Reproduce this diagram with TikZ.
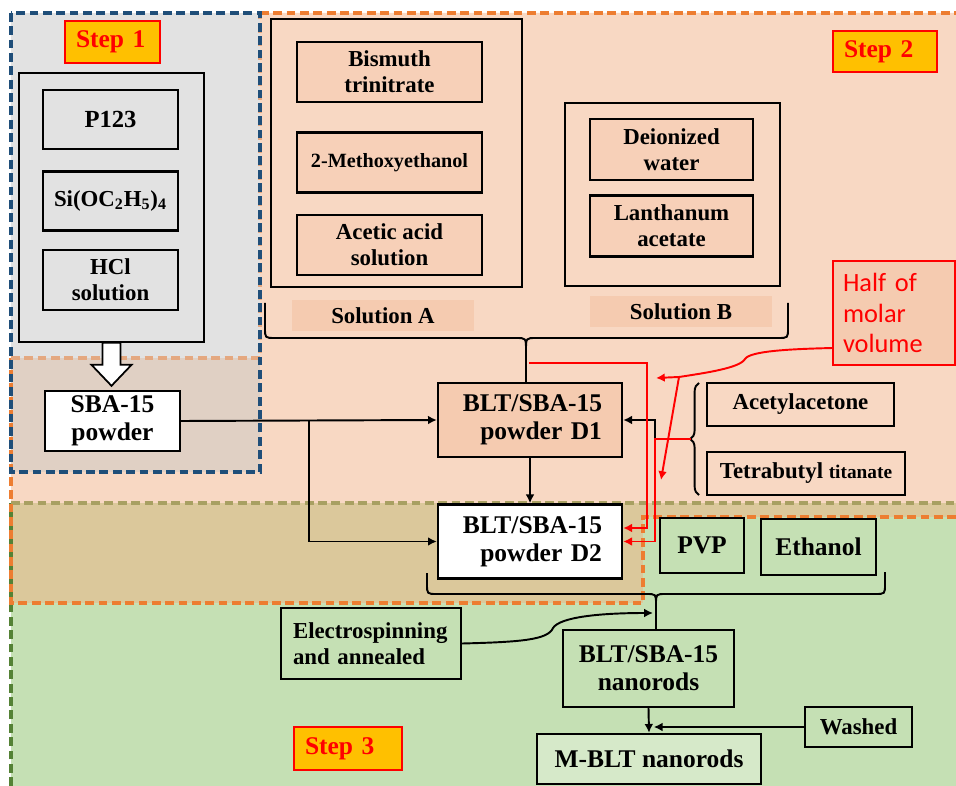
\documentclass[tikz,border=0pt]{standalone}
\usepackage{fontspec}
\setmainfont{Liberation Serif}
\newfontfamily\calibri{Carlito}
\usepackage{tikz}
\usetikzlibrary{arrows.meta,positioning,decorations.pathreplacing}
\usepackage{xcolor}
\definecolor{peach}{RGB}{248,216,195}
\definecolor{peachbox}{RGB}{247,208,184}
\definecolor{peachdark}{RGB}{245,203,176}
\definecolor{greyzone}{RGB}{226,226,226}
\definecolor{greypeach}{RGB}{224,208,196}
\definecolor{greenzone}{RGB}{197,224,180}
\definecolor{greenlight}{RGB}{214,233,201}
\definecolor{tanzone}{RGB}{219,200,155}
\definecolor{gold}{RGB}{255,192,0}
\definecolor{bluedash}{RGB}{31,78,121}
\definecolor{orangedash}{RGB}{237,125,49}
\definecolor{orangefaint}{RGB}{228,168,128}
\definecolor{olivedash}{RGB}{168,160,98}
\definecolor{greendash}{RGB}{84,130,53}

\begin{document}
\begin{tikzpicture}[
        x=0.02cm, y=-0.02cm,
        box/.style={draw, rectangle, line width=1.4pt, align=center, inner sep=0pt, font=\bfseries\fontsize{13}{15}\selectfont},
        big/.style={box, font=\bfseries\fontsize{14.5}{16}\selectfont},
        ingr/.style={box, fill=greyzone, minimum width=2.7cm, minimum height=1.18cm},
        solbox/.style={box, fill=peachbox, minimum width=3.7cm, minimum height=1.2cm},
        outerbox/.style={draw, rectangle, line width=1pt, inner sep=0pt},
        sollabel/.style={fill=peachdark, minimum width=3.64cm, minimum height=0.62cm, font=\bfseries\fontsize{13}{15}\selectfont},
        steplabel/.style={draw=red, line width=1pt, fill=gold, text=red, align=left, inner xsep=0.22cm, font=\bfseries\fontsize{14.5}{16}\selectfont},
        powder/.style={big, text width=2.88cm, align=right, inner xsep=0.4cm, minimum height=1.48cm},
        zoneline/.style={line width=2pt, dash pattern=on 5pt off 2.6pt},
        arrow/.style={-{Latex[length=5pt,width=5pt]}, line width=1.1pt},
        redarrow/.style={arrow, red},
        curly/.style={line width=1.1pt}
    ]
        \useasboundingbox (0,0) rectangle (956,786);

        \fill[greenzone] (11,503) rectangle (956,786);
        \fill[peach] (260,13) -- (956,13) -- (956,517) -- (643,517) -- (643,603) -- (11,603) -- (11,358) -- (260,358) -- cycle;
        \fill[tanzone] (11,503) rectangle (643,603);
        \fill[tanzone] (643,503) rectangle (956,517);
        \fill[greyzone] (11,13) rectangle (260,358);
        \fill[greypeach] (11,358) rectangle (260,472);
        \draw[zoneline, draw=greendash] (11,786) -- (11,503);
        \draw[zoneline, draw=olivedash] (11,503) -- (956,503);
        \draw[zoneline, draw=orangedash] (956,517) -- (643,517) -- (643,603) -- (11,603) -- (11,358);
        \draw[zoneline, draw=orangedash] (260,13) -- (956,13);
        \draw[zoneline, draw=orangefaint] (11,358) -- (260,358) -- (260,13);
        \draw[zoneline, draw=bluedash] (11,13) rectangle (260,472);

        \node[steplabel, text width=1.46cm, minimum height=0.84cm] (step1) at (112.5,42) {Step 1};
        \node[steplabel, text width=1.64cm, minimum height=0.82cm] (step2) at (885,51.5) {Step 2};
        \node[steplabel, text width=1.72cm, minimum height=0.86cm] (step3) at (348,748.5) {Step 3};

        \node[outerbox, fill=greyzone, minimum width=3.7cm, minimum height=5.38cm] (mix) at (111.5,207.5) {};
        \node[ingr, font=\bfseries\fontsize{14}{16}\selectfont] (p123) at (110.5,119.5) {P123};
        \node[ingr, font=\bfseries\fontsize{13}{15}\selectfont, below=0.4cm of p123] (teos) {Si(OC\textsubscript{2}H\textsubscript{5})\textsubscript{4}};
        \node[ingr, minimum height=1.2cm, below=0.34cm of teos] (hcl) {HCl\\solution};
        \node[big, fill=white, minimum width=2.7cm, minimum height=1.2cm] (sba) at (112.5,421) {SBA-15\\powder};
        \draw[line width=1pt, fill=white] (mix.south) ++(-9,0) -- ++(0,22) -- ++(-11,0) -- ++(20,21) -- ++(20,-21) -- ++(-11,0) -- ++(0,-22) -- cycle;

        \node[outerbox, fill=peach, minimum width=5.02cm, minimum height=5.36cm] (solA) at (396.5,153) {};
        \node[solbox] (bis) at (389.5,72) {Bismuth\\trinitrate};
        \node[solbox, font=\bfseries\fontsize{11.5}{13}\selectfont, below=0.56cm of bis] (meth) {2-Methoxyethanol};
        \node[solbox, below=0.4cm of meth] (acetic) {Acetic acid\\solution};
        \node[sollabel] (solAlbl) at (383,315.5) {Solution A};

        \node[outerbox, fill=peach, minimum width=4.3cm, minimum height=3.66cm] (solB) at (672.5,194.5) {};
        \node[solbox, minimum width=3.26cm, minimum height=1.22cm] (water) at (671.5,149.5) {Deionized\\water};
        \node[solbox, minimum width=3.26cm, minimum height=1.22cm, below=0.26cm of water] (lanac) {Lanthanum\\acetate};
        \node[sollabel] (solBlbl) at (681,311.5) {Solution B};

        \node[draw=red, line width=1pt, fill=peachdark, text=red, text width=2.04cm, inner xsep=0.2cm, minimum height=2.08cm, align=left, font=\calibri\fontsize{15}{17.5}\selectfont] (half) at (894,313) {Half of\\molar\\volume};

        \node[powder, fill=peachdark] (d1) at (530,420) {BLT/SBA-15\\powder D1};
        \node[powder, fill=white] (d2) at (530,541.5) {BLT/SBA-15\\powder D2};
        \node[box, minimum width=3.74cm, minimum height=0.86cm] (acac) at (800.5,404.5) {Acetylacetone};
        \node[box, minimum width=3.96cm, minimum height=0.86cm] (tbt) at (806,473.5) {Tetrabutyl {\fontsize{11}{13}\selectfont titanate}};

        \node[big, minimum width=1.68cm, minimum height=1.1cm] (pvp) at (702,545.5) {PVP};
        \node[big, minimum width=2.3cm, minimum height=1.12cm] (etoh) at (818.5,547) {Ethanol};
        \node[box, text width=3.12cm, inner xsep=0.24cm, align=left, minimum height=1.42cm] (elec) at (371,643.5) {Electrospinning\\and annealed};
        \node[big, minimum width=3.42cm, minimum height=1.54cm] (rods) at (648.5,668.5) {BLT/SBA-15\\nanorods};
        \node[big, fill=greenlight, minimum width=4.48cm, minimum height=1cm] (mblt) at (649,759) {M-BLT nanorods};
        \node[box, minimum width=2.14cm, minimum height=0.8cm] (washed) at (858.5,727) {Washed};

        \draw[curly] (265,303) -- (265,328) .. controls (265,338) .. (275,338) -- (516,338) .. controls (526,338) .. (526,350) -- (526,362);
        \draw[curly] (526,362) -- (526,350) .. controls (526,338) .. (536,338) -- (778,338) .. controls (788,338) .. (788,328) -- (788,303);
        \coordinate (tipAB) at (526,362);
        \draw[curly] (tipAB) -- (tipAB |- d1.north);

        \draw[curly] (427,573) -- (427,584) .. controls (427,594) .. (437,594) -- (646,594) .. controls (656,594) .. (656,604);
        \draw[curly] (656,604) .. controls (656,594) .. (666,594) -- (875,594) .. controls (885,594) .. (885,584) -- (885,572);
        \coordinate (tipD) at (656,604);
        \draw[curly] (tipD) -- (tipD |- rods.north);

        \draw[curly, decorate, decoration={brace, amplitude=5pt}] (699,495) -- (699,383);
        \coordinate (tipT) at (691,439);
        \coordinate (jT) at (655,439);

        \coordinate (split) at (309,421);
        \draw[arrow] (sba.east) -- (d1.west);
        \draw[arrow] (split) |- (d2.west);
        \draw[arrow] (d1.south) -- (d2.north);
        \draw[arrow] (tipT) -- (jT) |- (d1.east);

        \coordinate (redA) at (529,363);
        \coordinate (redB) at (647,528);
        \draw[redarrow] (redA) -| (redB) -- (redB -| d2.east);
        \draw[redarrow] (tipT) -- (jT) |- (d2.east);

        \coordinate (hmOut) at (833,348);
        \coordinate (hmSplit) at (679,377);
        \coordinate (hmTipA) at (656,378);
        \coordinate (hmTipB) at (661,480);
        \draw[red, line width=1.1pt] (hmOut) .. controls (790,349) and (750,351) .. (745,359) .. controls (740,368) and (705,373) .. (hmSplit);
        \draw[redarrow] (hmSplit) -- (hmTipA);
        \draw[redarrow] (hmSplit) -- (hmTipB);

        \coordinate (spinTip) at (653,613);
        \draw[arrow] (elec.east) .. controls (520,642) and (548,640) .. (553,628) .. controls (560,617) and (600,613) .. (spinTip);
        \draw[arrow] (rods.south) -- (mblt.north);
        \draw[arrow, shorten >=3pt] (washed.west) -- (washed.west -| rods.south);
    \end{tikzpicture}
\end{document}
